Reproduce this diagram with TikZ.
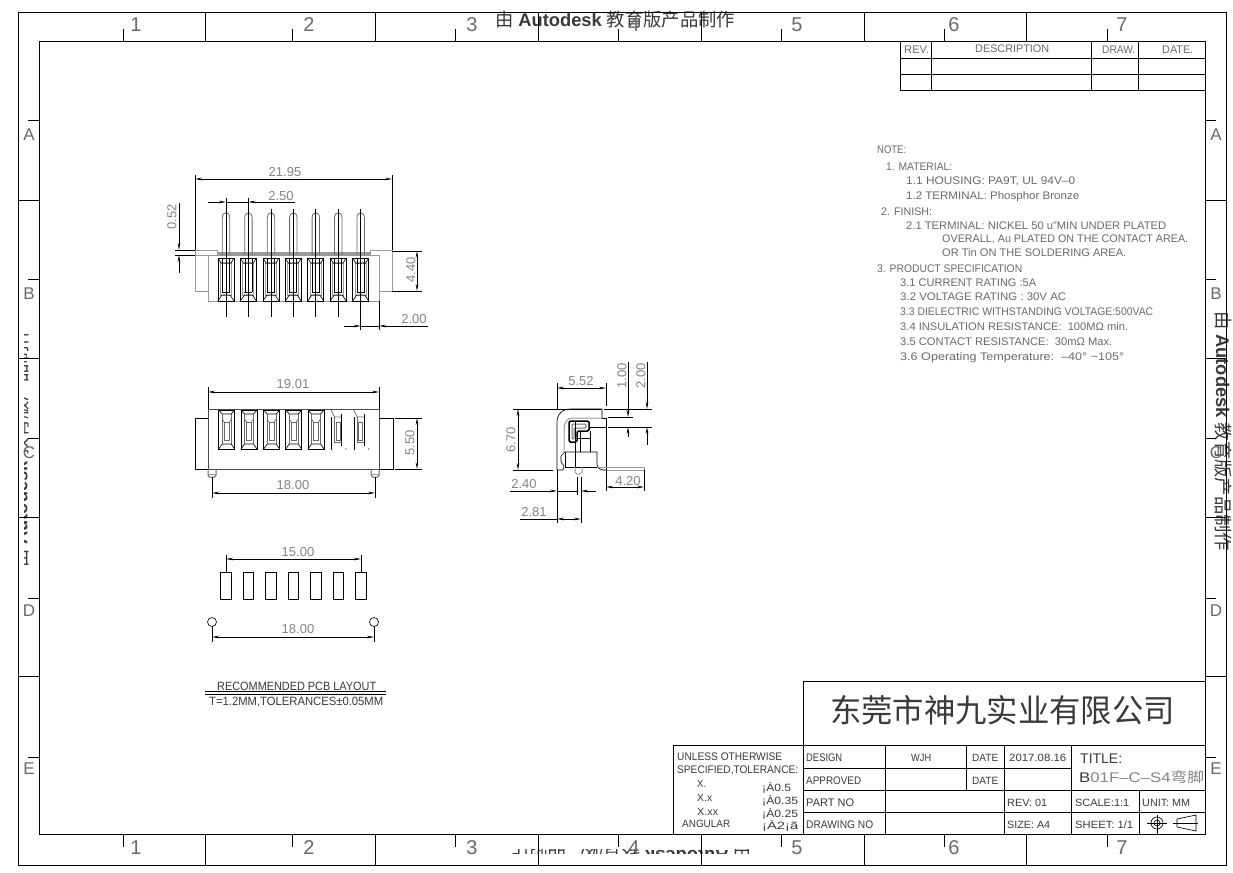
\documentclass[tikz,border=0pt]{standalone}
\usepackage{fontspec}
\usepackage{graphicx}
\usetikzlibrary{arrows.meta}
\setmainfont{Liberation Sans}
\newfontfamily\cjk{Noto Sans CJK SC}
\definecolor{dimc}{HTML}{858585}
\definecolor{notec}{HTML}{6A6A6A}
\definecolor{tabc}{HTML}{3A3A3A}
\definecolor{bodyc}{HTML}{9A9A9A}
\newsavebox\fitbox
\newcounter{tn}
\newcommand\fitw[2]{\sbox\fitbox{#2}\pgfmathsetmacro\fitr{#1/\the\wd\fitbox}\scalebox{\fitr}[1]{\usebox\fitbox}}
% \T[colour]{size}{x}{y centre}{width}{text}
\newcommand\T[6][tabc]{\stepcounter{tn}\pgfmathsetmacro\by{#4+0.36*#2}\node[anchor=base west,inner sep=0pt,text=#1,font=\fontsize{#2}{#2}\selectfont] (t\arabic{tn}) at (#3,\by) {\fitw{#5}{#6}};}
% dimension labels
\newcommand\D[3]{\stepcounter{tn}\node[dimtxt] (t\arabic{tn}) at (#1,#2) {#3};}
\newcommand\DR[3]{\stepcounter{tn}\node[dimtxt,rotate=90] (t\arabic{tn}) at (#1,#2) {#3};}
\newcommand\WM{{\cjk 由} {\bfseries Autodesk} {\cjk 教育版产品制作}}
\tikzset{
  dimtxt/.style={inner sep=0pt,text=dimc,font=\fontsize{13}{13}\selectfont},
  frm/.style={inner sep=0pt,text=notec,font=\fontsize{20}{20}\selectfont},
  wm/.style={inner sep=0pt,text=tabc,font=\fontsize{18.3}{18.3}\selectfont},
  ln/.style={black,line width=0.75pt},
  dl/.style={black,line width=0.65pt},
  bl/.style={bodyc,line width=1pt},
  tb/.style={black,line width=0.85pt},
  both/.style={dl,{Stealth[length=7pt,width=2.6pt]}-{Stealth[length=7pt,width=2.6pt]}},
  toa/.style={dl,-{Stealth[length=7pt,width=2.6pt]}}
}
\begin{document}
\begin{tikzpicture}[x=1pt,y=-1pt]
\useasboundingbox (0,0) rectangle (1233,872);
\fill[white] (0,0) rectangle (1233,872);
% --- watermarks
\node[wm] (wtop) at (615,20) {\WM};
\node[wm,rotate=-90] (wright) at (1223,431) {\WM};
\begin{scope}
  \clip (24.5,300) rectangle (28,600);
  \node[wm,rotate=90] (wleft) at (20.5,448) {\WM};
\end{scope}
\begin{scope}
  \clip (480,849) rectangle (780,853);
  \node[wm,rotate=180] (wbot) at (632,857) {\WM};
\end{scope}
% --- frame
\draw[tb] (18,12) rectangle (1226,865);
\draw[tb] (39,41) rectangle (1205,834);
\foreach \x in {205,375,538,701,864,1026} {
  \draw[tb] (\x,12) -- (\x,41);
  \draw[tb] (\x,834) -- (\x,865);
}
\foreach \x in {123,292,455,618,781,944,1107} {
  \draw[tb] (\x,29) -- (\x,41);
  \draw[tb] (\x,834) -- (\x,847);
}
\foreach \y in {200,358,517,676} {
  \draw[tb] (18,\y) -- (39,\y);
  \draw[tb] (1205,\y) -- (1226,\y);
}
\foreach \y in {120,279,438,598,757} {
  \draw[tb] (28,\y) -- (39,\y);
  \draw[tb] (1205,\y) -- (1216,\y);
}
\foreach \n/\x in {1/136,2/309,3/472,4/634,5/797,6/954,7/1122} {
  \node[frm] (ft\n) at (\x,25) {\n};
  \node[frm] (fb\n) at (\x,848) {\n};
}
\foreach \n/\y in {A/135,B/294,C/453,D/611,E/769} {
  \node[frm,font=\fontsize{17}{17}\selectfont] (fl\n) at (29,\y) {\n};
  \node[frm,font=\fontsize{17}{17}\selectfont] (fr\n) at (1216,\y) {\n};
}
% --- revision table
\foreach \y in {41,58,74,90} \draw[tb] (900,\y) -- (1205,\y);
\foreach \x in {900,931,1091,1138} \draw[tb] (\x,41) -- (\x,90);
\T[notec]{11}{904}{50}{25}{REV.}
\T[notec]{11}{975}{49}{74}{DESCRIPTION}
\T[notec]{11}{1102}{50}{33}{DRAW.}
\T[notec]{11}{1162}{50}{31}{DATE.}
% --- notes
\T[notec]{11}{877}{150}{29}{NOTE:}
\T[notec]{11}{886}{167}{66}{1. MATERIAL:}
\T[notec]{11}{906}{181}{169}{1.1 HOUSING: PA9T, UL 94V--0}
\T[notec]{11}{906}{196}{173}{1.2 TERMINAL: Phosphor Bronze}
\T[notec]{11}{881}{212}{51}{2. FINISH:}
\T[notec]{11}{906}{226}{260}{2.1 TERMINAL: NICKEL 50 u"MIN UNDER PLATED}
\T[notec]{11}{942}{239}{246}{OVERALL, Au PLATED ON THE CONTACT AREA.}
\T[notec]{11}{942}{253}{184}{OR Tin ON THE SOLDERING AREA.}
\T[notec]{11}{877}{269}{145}{3. PRODUCT SPECIFICATION}
\T[notec]{11}{900}{283}{136}{3.1 CURRENT RATING :5A}
\T[notec]{11}{900}{297}{166}{3.2 VOLTAGE RATING : 30V AC}
\T[notec]{11}{900}{312}{253}{3.3 DIELECTRIC WITHSTANDING VOLTAGE:500VAC}
\T[notec]{11}{900}{327}{228}{3.4 INSULATION RESISTANCE:\ \ 100MΩ min.}
\T[notec]{11}{900}{342}{212}{3.5 CONTACT RESISTANCE:\ \ 30mΩ Max.}
\T[notec]{11}{900}{357}{224}{3.6 Operating Temperature:\ \ --40° \textasciitilde 105°}
% --- view 1: top view
\draw[bl] (217,250) -- (195,250) -- (195,291) -- (208,291);
\draw[bl] (195,255) -- (208,255);
\draw[bl] (370,250) -- (392,250) -- (392,291) -- (379,291);
\fill[bodyc] (217,252) rectangle (370,255);
\draw[bl] (217,250) -- (217,255);
\draw[bl] (370,250) -- (370,255);
\draw[bl] (208,255) rectangle (379,301);
\foreach \c in {226,248.4,271,293.3,315.8,338.2,360.7} {
  \draw[notec,line width=0.8pt] ({\c-3.7},255) -- ({\c-3.7},218) .. controls ({\c-3.7},211) and ({\c+3.7},211) .. ({\c+3.7},218) -- ({\c+3.7},255);
  \draw[bl,line width=0.9pt] ({\c-5.5},263) rectangle ({\c+5.5},295);
  \draw[dl] ({\c-8},258) rectangle ({\c+8},301);
  \draw[dl] ({\c-8},258) -- ({\c-5},263) -- ({\c+5},263) -- ({\c+8},258);
  \draw[dl] ({\c-8},301) -- ({\c-4},295) -- ({\c+4},295) -- ({\c+8},301);
  \draw[dl] ({\c-3.5},258) -- ({\c-3.5},292);
  \draw[dl] ({\c+3.5},258) -- ({\c+3.5},292);
  \draw[dl] ({\c-4},292) -- ({\c+4},292);
  \draw[dl] (\c,209) -- (\c,317);
}
\draw[dl] (195,175) -- (195,250);
\draw[dl] (392,175) -- (392,250);
\draw[both] (195,179) -- (392,179);
\D{285}{172}{21.95}
\draw[dl] (226,198) -- (226,209);
\draw[dl] (248.4,198) -- (248.4,209);
\draw[toa] (208,202) -- (226,202);
\draw[dl] (226,202) -- (248.4,202);
\draw[toa] (295,202) -- (248.4,202);
\D{281}{196}{2.50}
\draw[dl] (392,251) -- (422,251);
\draw[dl] (392,291) -- (422,291);
\draw[both] (417,251) -- (417,291);
\DR{411}{270}{4.40}
\draw[dl] (175,250) -- (195,250);
\draw[dl] (175,255) -- (195,255);
\draw[toa] (179,203) -- (179,250);
\draw[toa] (179,273) -- (179,255);
\DR{172}{217}{0.52}
\draw[dl] (360.7,317) -- (360.7,330);
\draw[dl] (379,301) -- (379,330);
\draw[toa] (344,326) -- (360.7,326);
\draw[dl] (360.7,326) -- (379,326);
\draw[toa] (428,326) -- (379,326);
\D{414}{319}{2.00}
% --- view 2: front view
\draw[bl,black!70] (208,409) rectangle (379,469);
\draw[dl] (208,418) -- (195,418) -- (195,469) -- (208,469);
\draw[dl] (379,418) -- (393,418) -- (393,469) -- (379,469);
\foreach \c in {226.7,249,271.7,293.7,316} {
  \draw[dl] ({\c-8},410) rectangle ({\c+8},449);
  \draw[dl] ({\c-8},410) -- ({\c-4.5},414) -- ({\c+4.5},414) -- ({\c+8},410);
  \draw[dl] ({\c-8},449) -- ({\c-4.5},444) -- ({\c+4.5},444) -- ({\c+8},449);
  \draw[notec,line width=0.7pt] ({\c-4.5},414) -- ({\c-4.5},444);
  \draw[notec,line width=0.7pt] ({\c+4.5},414) -- ({\c+4.5},444);
  \draw[notec,line width=0.65pt] ({\c-2.5},422) rectangle ({\c+2.5},440);
  \draw[notec,line width=0.7pt] ({\c-4.5},419) -- ({\c-2.5},422);
  \draw[notec,line width=0.7pt] ({\c+4.5},419) -- ({\c+2.5},422);
}
\foreach \c in {338,360.7} {
  \draw[dl] ({\c-6.5},417) -- ({\c-6.5},450);
  \draw[notec,line width=0.7pt] ({\c-7},410) -- ({\c-3.5},417) -- ({\c+3.5},417);
  \draw[dl] ({\c+3.5},414) -- ({\c+3.5},446);
  \draw[notec,line width=0.7pt] ({\c-3.5},417) -- ({\c-3.5},442) -- ({\c+3.5},442);
  \draw[notec,line width=0.65pt] ({\c-2},422) rectangle ({\c+2},440);
  \fill[black] ({\c+8},449) circle[radius=0.7pt];
}
\foreach \c in {212,375} {
  \draw[bl,black!60] ({\c-4},469) -- ({\c-4},475) -- ({\c-2.5},477) -- ({\c+2.5},477) -- ({\c+4},475) -- ({\c+4},469);
  \draw[bl,line width=0.7pt] ({\c-4},474) -- ({\c+4},474);
}
\draw[dl] (208,387) -- (208,409);
\draw[dl] (379,387) -- (379,409);
\draw[both] (208,392) -- (379,392);
\D{293}{384}{19.01}
\draw[dl] (212,477) -- (212,498);
\draw[dl] (375,477) -- (375,498);
\draw[both] (212,493) -- (375,493);
\D{293}{485}{18.00}
\draw[dl] (395,418) -- (422,418);
\draw[dl] (395,469) -- (422,469);
\draw[both] (417,418) -- (417,469);
\DR{410}{443}{5.50}
% --- view 3: side view
\draw[dl] (557,470) -- (557,423) .. controls (557,414) and (562,409) .. (571,409) -- (602,409) -- (602,418);
\draw[bl] (602,418) -- (572,418) .. controls (567,418) and (564,423) .. (564,430) -- (564,452);
\draw[dl] (602,418) -- (606,418) -- (606,470);
\draw[dl] (589,427) -- (606,427);
\draw[dl,line width=1.5pt,rounded corners=1.5pt] (569,421) -- (589,421) -- (589,431) -- (577,431) -- (577,442) -- (569,442) -- cycle;
\draw[notec,line width=1pt,rounded corners=1pt] (572,424) -- (586,424) -- (586,428) -- (574,428) -- (574,439) -- (572,439) -- cycle;
\draw[dl] (580,432) -- (580,452);
\draw[dl] (577,438) -- (590,438);
\draw[dl] (590,431) -- (590,452);
\draw[dl] (565,452) -- (597,452) -- (597,465) .. controls (597,468) and (600,470) .. (603,470) -- (606,470);
\draw[dl,line width=0.6pt] (565,452) -- (561,456) -- (561,462) -- (564,466) -- (563,470) -- (557,470);
\draw[dl] (565,452) -- (565,467) -- (597,467);
\draw[bl] (575,467) -- (575,472) -- (577,474) -- (580,474) -- (582,472) -- (582,467);
\draw[dl] (575,421) -- (575,467);
\draw[bl] (597,467) -- (644,467) -- (644,470) -- (603,470);
\draw[dl] (557,383) -- (557,409);
\draw[dl] (606,383) -- (606,406);
\draw[both] (557,388) -- (606,388);
\D{581}{381}{5.52}
\draw[dl] (513,409) -- (602,409);
\draw[dl] (513,470) -- (553,470);
\draw[both] (518,409) -- (518,470);
\DR{511}{440}{6.70}
\draw[dl] (604,409) -- (652,409);
\draw[dl] (608,417) -- (633,417);
\draw[dl] (608,427) -- (652,427);
\draw[toa] (628,362) -- (628,417);
\draw[toa] (628,437) -- (628,427);
\draw[toa] (647,362) -- (647,409);
\draw[toa] (647,445) -- (647,427);
\DR{622}{376}{1.00}
\DR{641}{376}{2.00}
\draw[dl] (606,470) -- (606,491);
\draw[dl] (644,470) -- (644,491);
\draw[both] (606,487) -- (644,487);
\D{628}{481}{4.20}
\draw[dl] (557,470) -- (557,523);
\draw[dl] (577,477) -- (577,495);
\draw[dl] (581,477) -- (581,523);
\draw[toa] (510,491) -- (557,491);
\draw[dl] (557,491) -- (577,491);
\draw[toa] (596,491) -- (581,491);
\D{524}{484}{2.40}
\draw[dl] (520,519) -- (557,519);
\draw[both] (557,519) -- (581,519);
\D{534}{512}{2.81}
% --- view 4: PCB layout
\foreach \c in {226,248.4,271,293.3,315.8,338.2,360.7}
  \draw[ln] ({\c-5.3},572) rectangle ({\c+5.3},599);
\draw[dl] (226,555) -- (226,572);
\draw[dl] (361,555) -- (361,572);
\draw[both] (226,559) -- (361,559);
\D{298}{552}{15.00}
\draw[dl] (212,622) circle[radius=4.5pt];
\draw[dl] (374,622) circle[radius=4.5pt];
\draw[dl] (212,627) -- (212,642);
\draw[dl] (374,627) -- (374,642);
\draw[both] (212,637) -- (374,637);
\D{298}{629}{18.00}
\T{12}{217}{686}{159}{RECOMMENDED PCB LAYOUT}
\draw[tb] (205,691) -- (386,691);
\draw[tb] (205,694) -- (386,694);
\T{12}{209}{701}{174}{T=1.2MM,TOLERANCES±0.05MM}
% --- title block
\draw[tb] (803,834) -- (803,681) -- (1205,681);
\draw[tb] (673,834) -- (673,745) -- (1205,745);
\draw[tb] (803,768) -- (1071,768);
\draw[tb] (803,790) -- (1205,790);
\draw[tb] (803,812) -- (1205,812);
\draw[tb] (885,745) -- (885,834);
\draw[tb] (966,745) -- (966,790);
\draw[tb] (1004,745) -- (1004,834);
\draw[tb] (1071,745) -- (1071,834);
\draw[tb] (1139,790) -- (1139,834);
\node[inner sep=0pt,text=tabc,font=\cjk\fontsize{32}{32}\selectfont] (company) at (1002.5,710) {\fitw{345}{东莞市神九实业有限公司}};
\T{11}{677}{757}{105}{UNLESS OTHERWISE}
\T{11}{677}{770}{121}{SPECIFIED,TOLERANCE:}
\T{10.5}{697}{784}{9}{X.}
\T{10.5}{697}{798}{15}{X.x}
\T{10.5}{697}{812}{21}{X.xx}
\T{10.5}{682}{824}{48}{ANGULAR}
\T{10.5}{762}{788}{29}{¡À0.5}
\T{10.5}{762}{801}{36}{¡À0.35}
\T{10.5}{762}{814}{36}{¡À0.25}
\T{10.5}{762}{826}{36}{¡À2¡ã}
\T{11}{806}{758}{36}{DESIGN}
\T{11}{806}{781}{55}{APPROVED}
\T{11}{806}{803}{48}{PART NO}
\T{11}{806}{825}{67}{DRAWING NO}
\T{10.5}{911}{758}{20}{WJH}
\T{10.5}{972}{758}{26}{DATE}
\T{10.5}{972}{781}{26}{DATE}
\T{10.5}{1009}{758}{57}{2017.08.16}
\T{10.5}{1007}{803}{40}{REV: 01}
\T{10.5}{1007}{825}{43}{SIZE: A4}
\T{10.5}{1075}{803}{54}{SCALE:1:1}
\T{10.5}{1075}{825}{58}{SHEET: 1/1}
\T{10.5}{1142}{803}{48}{UNIT: MM}
\T{14}{1080}{758}{42}{TITLE:}
\stepcounter{tn}
\node[anchor=base west,inner sep=0pt,text=dimc,font=\fontsize{14}{14}\selectfont] (ttitle) at (1079,782) {\fitw{125}{{\color{tabc}B}01F--C--S4{\cjk 弯脚}}};
\draw[dl] (1157,823) circle[radius=6pt];
\draw[dl] (1157,823) circle[radius=3pt];
\draw[dl] (1147,823) -- (1167,823);
\draw[dl] (1157,815) -- (1157,834);
\draw[dl] (1177,819) -- (1196,815) -- (1196,831) -- (1177,827) -- cycle;
\draw[dl] (1173,823) -- (1198,823);
\end{tikzpicture}
\end{document}
